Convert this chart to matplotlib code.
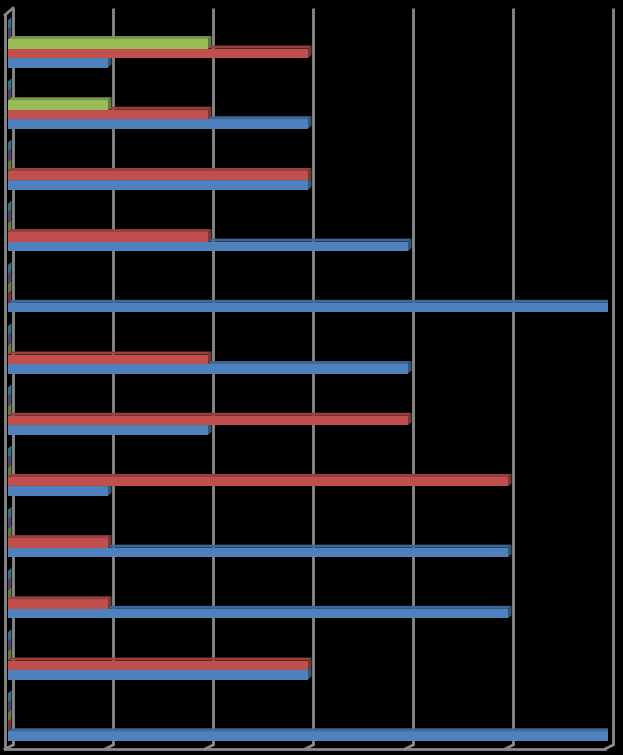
import matplotlib
matplotlib.use("Agg")
import matplotlib.pyplot as plt
import matplotlib.transforms as mtransforms
from matplotlib.patches import Polygon
import numpy as np

# Data (groups listed top -> bottom as seen in the chart)
groups = ["G1", "G2", "G3", "G4", "G5", "G6", "G7", "G8", "G9", "G10", "G11", "G12"]
series_blue = [1, 3, 3, 4, 6, 4, 2, 1, 5, 5, 3, 6]
series_red = [3, 2, 3, 2, 0, 2, 4, 5, 1, 1, 3, 0]
series_green = [2, 1, 0, 0, 0, 0, 0, 0, 0, 0, 0, 0]
series_purple = [0] * 12
series_teal = [0] * 12
x_ticks = [0, 1, 2, 3, 4, 5, 6]

series = [series_blue, series_red, series_green, series_purple, series_teal]
colors = ["#4F81BD", "#C0504D", "#9BBB59", "#8064A2", "#4BACC6"]

W, H = 623, 755
fig = plt.figure(figsize=(W / 100, H / 100), dpi=100, facecolor="black")
ax_left, ax_right, ax_top, ax_bottom = 8, 608, 8, 745
ax = fig.add_axes([ax_left / W, (H - ax_bottom) / H,
                   (ax_right - ax_left) / W, (ax_bottom - ax_top) / H])
ax.set_facecolor("black")
ylo, yhi = -0.457, 11.585
ax.set_xlim(0, 6)
ax.set_ylim(ylo, yhi)
for s in ax.spines.values():
    s.set_visible(False)
ax.set_xticks([])
ax.set_yticks([])

px_x = 6 / (ax_right - ax_left)          # data units per pixel (x)
px_y = (yhi - ylo) / (ax_bottom - ax_top)  # data units per pixel (y)
ax_h = ax_bottom - ax_top

grid_col = "#8a8a8a"
lw = 2.0
blend = mtransforms.blended_transform_factory(ax.transData, ax.transAxes)

def off(dx, dy):
    return mtransforms.offset_copy(blend, fig=fig, x=dx, y=-dy, units="dots")

# back-wall gridlines and floor diagonals
for v in x_ticks:
    ax.plot([v, v], [0, 1], color=grid_col, lw=lw, transform=off(5, 0),
            clip_on=False, zorder=1, solid_capstyle="butt")
    ax.plot([v, v - 8 * px_x], [0, -4 / ax_h], color=grid_col,
            lw=lw, transform=off(5, 0), clip_on=False, zorder=1)
# floor front edge
ax.plot([0, 6], [-4 / ax_h] * 2, color=grid_col, lw=lw,
        transform=off(-3, 0), clip_on=False, zorder=1)
# left front edge
ax.plot([0, 0], [-4 / ax_h, 1 - 7 / ax_h],
        color=grid_col, lw=lw, transform=off(-3, 0), clip_on=False, zorder=1)
# top-left diagonal
ax.plot([0 - 8 * px_x, 0], [1 - 7 / ax_h, 1], color=grid_col,
        lw=lw, transform=off(5, 0), clip_on=False, zorder=1)

# bars
h = 0.155
n = len(groups)
ypos = np.arange(n)[::-1]  # first group at top
dx = 3.5 * px_x
dy = 3 * px_y

def shade(c, f):
    rgb = np.array(matplotlib.colors.to_rgb(c))
    return tuple(rgb * f)

for k, (vals, col) in enumerate(zip(series, colors)):
    offs = (k - 2) * h
    for yi, v in zip(ypos, vals):
        yc = yi + offs
        b, t = yc - h / 2, yc + h / 2
        z = 3 + k
        ax.barh(yc, v, height=h, left=0, color=col, zorder=z, linewidth=0)
        top = Polygon([(0, t), (v, t), (v + dx, t + dy), (dx, t + dy)],
                      closed=True, facecolor=shade(col, 0.8), edgecolor="none", zorder=z)
        side = Polygon([(v, b), (v, t), (v + dx, t + dy), (v + dx, b + dy)],
                       closed=True, facecolor=shade(col, 0.65), edgecolor="none", zorder=z)
        ax.add_patch(top)
        ax.add_patch(side)

fig.savefig("out.png", dpi=100, facecolor="black")
